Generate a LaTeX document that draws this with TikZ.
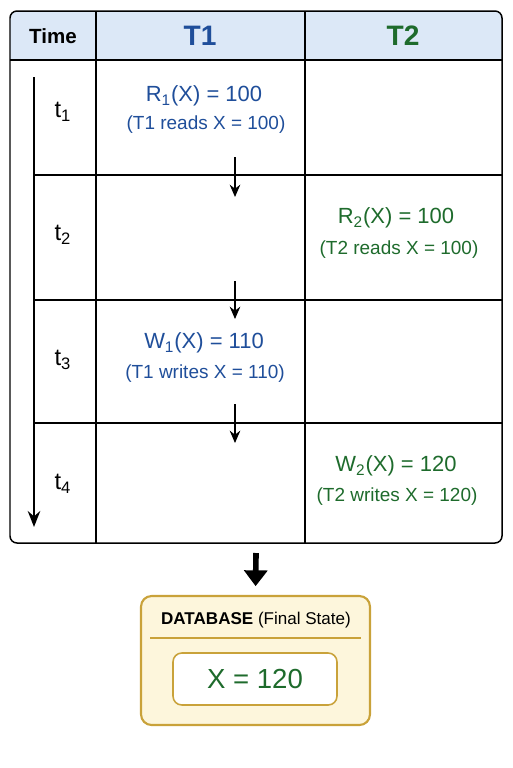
\documentclass[tikz,border=0pt]{standalone}
\usepackage{fontspec}
\setmainfont{Liberation Sans}
\usetikzlibrary{arrows.meta,positioning}

\definecolor{tblue}{HTML}{1F4E9A}
\definecolor{tgreen}{HTML}{1E6B2C}
\definecolor{headbg}{HTML}{DCE8F7}
\definecolor{dbfill}{HTML}{FDF6DC}
\definecolor{dbline}{HTML}{C9A23A}

\tikzset{
  grid/.style={line width=0.85pt},
  head/.style={font=\bfseries\fontsize{11.7}{14}\selectfont},
  thead/.style={font=\bfseries\fontsize{16}{19}\selectfont},
  tlabel/.style={font=\fontsize{13.5}{16}\selectfont},
  op/.style={font=\fontsize{12.5}{15}\selectfont},
  note/.style={font=\fontsize{10.8}{13}\selectfont},
  flow/.style={line width=1pt, -{Stealth[length=7pt,width=6pt]}},
}

\begin{document}
\begin{tikzpicture}[x=0.02cm,y=-0.02cm]
  \useasboundingbox (0,0) rectangle (512,768);

  % table
  \begin{scope}
    \clip[rounded corners=4pt] (10,11) rectangle (502,543);
    \fill[headbg] (10,11) rectangle (502,60);
  \end{scope}
  \draw[grid, rounded corners=4pt] (10,11) rectangle (502,543);
  \draw[grid] (10,60) -- (502,60);
  \draw[grid] (96,11) -- (96,543);
  \draw[grid] (305,11) -- (305,543);
  \foreach \y in {175,300,423}
    \draw[grid] (34,\y) -- (502,\y);

  % header
  \node[head] (time) at (53,36) {Time};
  \node[thead, text=tblue] (T1) at (200,36) {T1};
  \node[thead, text=tgreen] (T2) at (403,36) {T2};

  % time axis
  \coordinate (tstart) at (34,77);
  \coordinate (tend) at (34,527);
  \draw[line width=1.5pt, -{Stealth[length=9pt,width=7pt]}] (tstart) -- (tend);

  \node[tlabel] (t1) at (63,112) {t\textsubscript{1}};
  \node[tlabel] (t2) at (63,235) {t\textsubscript{2}};
  \node[tlabel] (t3) at (63,360) {t\textsubscript{3}};
  \node[tlabel] (t4) at (63,484) {t\textsubscript{4}};

  % operations
  \node[op, text=tblue] (r1) at (204,96) {R\textsubscript{1}(X) = 100};
  \node[note, text=tblue] (r1n) at (206,125) {(T1 reads X = 100)};
  \node[op, text=tgreen] (r2) at (396,218) {R\textsubscript{2}(X) = 100};
  \node[note, text=tgreen] (r2n) at (399,250) {(T2 reads X = 100)};
  \node[op, text=tblue] (w1) at (204,343) {W\textsubscript{1}(X) = 110};
  \node[note, text=tblue] (w1n) at (205,374) {(T1 writes X = 110)};
  \node[op, text=tgreen] (w2) at (396,466) {W\textsubscript{2}(X) = 120};
  \node[note, text=tgreen] (w2n) at (397,497) {(T2 writes X = 120)};

  % order arrows in T1
  \coordinate (a1s) at (235,157);
  \coordinate (a1e) at (235,197);
  \coordinate (a2s) at (235,281);
  \coordinate (a2e) at (235,319);
  \coordinate (a3s) at (235,404);
  \coordinate (a3e) at (235,443);
  \draw[flow] (a1s) -- (a1e);
  \draw[flow] (a2s) -- (a2e);
  \draw[flow] (a3s) -- (a3e);

  % database
  \node[draw=dbline, fill=dbfill, line width=1.2pt, rounded corners=6pt,
        minimum width=4.58cm, minimum height=2.58cm] (db) at (255.5,660.5) {};
  \node[font=\fontsize{9.7}{12}\selectfont] (dbtitle) at (256,620)
    {\textbf{DATABASE} (Final State)};
  \draw[dbline, line width=0.9pt] (150,638) -- (361,638);
  \node[draw=dbline, fill=white, line width=0.9pt, rounded corners=5pt,
        minimum width=3.28cm, minimum height=1.04cm, text=tgreen,
        font=\fontsize{15.7}{18}\selectfont] (xval) at (255,679) {X = 120};

  \coordinate (dbin) at (256,553);
  \draw[line width=3.2pt, -{Triangle[length=9pt,width=13pt]}, shorten >=5pt] (dbin) -- (db.north);
\end{tikzpicture}
\end{document}
